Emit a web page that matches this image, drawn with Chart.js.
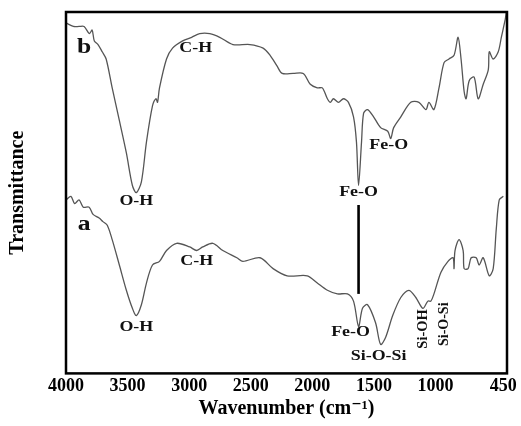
<!DOCTYPE html>
<html>
<head>
<meta charset="utf-8">
<script src="https://cdn.jsdelivr.net/npm/chart.js@4.4.1/dist/chart.umd.min.js"></script>
<style>
  html, body { margin: 0; padding: 0; background: #fff; }
</style>
</head>
<body>
<canvas id="ftir" width="521" height="426"></canvas>
<script>
// spectrum b (upper trace), wavenumber / transmittance (arb. units)
const bWave = [4000, 3940, 3894, 3853, 3810, 3788, 3770, 3740, 3706, 3674, 3625, 3567, 3510, 3461, 3429, 3388, 3347, 3298, 3270, 3257, 3241, 3184, 3135, 3053, 2980, 2915, 2833, 2752, 2645, 2507, 2400, 2343, 2286, 2245, 2156, 2074, 2017, 1960, 1919, 1878, 1854, 1829, 1788, 1748, 1707, 1666, 1642, 1625, 1601, 1584, 1552, 1503, 1446, 1388, 1364, 1340, 1282, 1201, 1135, 1078, 1054, 1013, 972, 931, 891, 850, 817, 793, 768, 752, 727, 687, 654, 613, 572, 564, 532, 491, 466, 434, 426];
const bTrans = [97, 96, 96, 96, 94, 95, 92, 91, 89, 87, 79, 70, 61, 52, 50, 53, 64, 74, 76, 75, 79, 87, 90, 92, 93, 94, 94, 93, 91, 91, 90, 88, 85, 83, 83, 83, 80, 79, 79, 76, 75, 76, 75, 76, 75, 71, 64, 52, 64, 72, 73, 71, 68, 67, 65, 68, 71, 75, 75, 73, 75, 73, 79, 86, 87, 88, 93, 87, 78, 76, 81, 82, 76, 80, 84, 89, 87, 89, 93, 98, 100];

// spectrum a (lower trace)
const aWave = [4000, 3960, 3930, 3894, 3860, 3812, 3780, 3731, 3700, 3665, 3625, 3567, 3510, 3461, 3429, 3388, 3347, 3298, 3241, 3184, 3102, 2996, 2939, 2890, 2808, 2727, 2613, 2564, 2425, 2319, 2205, 2041, 1960, 1878, 1797, 1715, 1666, 1625, 1593, 1552, 1487, 1446, 1405, 1348, 1282, 1217, 1160, 1103, 1062, 1038, 1013, 956, 899, 858, 850, 842, 809, 776, 768, 736, 711, 670, 646, 613, 564, 532, 507, 483, 450];
const aTrans = [48, 49, 47, 48, 46, 46, 44, 43, 42, 41, 37, 30, 23, 18, 16, 19, 25, 30, 31, 34, 36, 35, 34, 35, 36, 34, 32, 31, 32, 29, 27, 27, 25, 23, 22, 22, 20, 13, 18, 19, 14, 8, 10, 16, 21, 23, 21, 18, 20, 20, 22, 28, 31, 32, 29, 34, 37, 34, 29, 29, 32, 32, 30, 32, 27, 29, 40, 48, 49];

const xTicks = [4000, 3500, 3000, 2500, 2000, 1500, 1000, 450];

// band labels, placed in data coordinates
const bandLabels = [
  { text: 'b', w: 3853, t: 90, size: 20 },
  { text: 'C-H', w: 2947, t: 90 },
  { text: 'O-H', w: 3429, t: 47.5 },
  { text: 'Fe-O', w: 1625, t: 50.2 },
  { text: 'Fe-O', w: 1380, t: 63 },
  { text: 'a', w: 3853, t: 41, size: 20 },
  { text: 'C-H', w: 2939, t: 31 },
  { text: 'O-H', w: 3429, t: 12.8 },
  { text: 'Fe-O', w: 1690, t: 11.4 },
  { text: 'Si-O-Si', w: 1462, t: 4.7 },
  { text: 'Si-OH', w: 1103, t: 12.3, rot: true, size: 14.5 },
  { text: 'Si-O-Si', w: 931, t: 13.6, rot: true, size: 14 }
];

const serif = '"Liberation Serif", "DejaVu Serif", serif';

const decorations = {
  id: 'decorations',
  afterDatasetsDraw(chart) {
    const { ctx, chartArea: ca, scales } = chart;
    const x = scales.x, y = scales.y;
    ctx.save();
    // frame
    ctx.strokeStyle = '#000';
    ctx.lineWidth = 2.5;
    ctx.strokeRect(ca.left, ca.top, ca.right - ca.left, ca.bottom - ca.top);
    // connector line between the two Fe-O bands
    ctx.lineWidth = 2.6;
    ctx.beginPath();
    ctx.moveTo(x.getPixelForValue(1625), y.getPixelForValue(46.6));
    ctx.lineTo(x.getPixelForValue(1625), y.getPixelForValue(22));
    ctx.stroke();
    // labels (the source figure is a bit wider than tall, so stretch them)
    ctx.fillStyle = '#111';
    ctx.textAlign = 'center';
    ctx.textBaseline = 'middle';
    bandLabels.forEach(l => {
      ctx.font = 'bold ' + (l.size || 14) + 'px ' + serif;
      const px = x.getPixelForValue(l.w), py = y.getPixelForValue(l.t);
      ctx.save();
      ctx.translate(px, py);
      if (l.rot) {
        ctx.rotate(-Math.PI / 2);
      } else {
        ctx.scale(1.28, 1);
      }
      ctx.fillText(l.text, 0, 0);
      ctx.restore();
    });
    ctx.restore();
  }
};

new Chart(document.getElementById('ftir'), {
  type: 'line',
  data: {
    datasets: [
      {
        label: 'b',
        data: bWave.map((w, i) => ({ x: w, y: bTrans[i] })),
        borderColor: '#555',
        borderWidth: 1.3,
        pointRadius: 0,
        tension: 0.3
      },
      {
        label: 'a',
        data: aWave.map((w, i) => ({ x: w, y: aTrans[i] })),
        borderColor: '#555',
        borderWidth: 1.3,
        pointRadius: 0,
        tension: 0.3
      }
    ]
  },
  options: {
    responsive: false,
    animation: false,
    devicePixelRatio: 1,
    layout: { padding: { left: 6, top: 12, right: 14, bottom: 7 } },
    plugins: {
      legend: { display: false },
      tooltip: { enabled: false }
    },
    scales: {
      x: {
        type: 'linear',
        reverse: true,
        min: 420,
        max: 4000,
        afterBuildTicks: axis => { axis.ticks = xTicks.map(v => ({ value: v })); },
        grid: { display: false, drawTicks: false },
        border: { display: false },
        ticks: {
          color: '#000',
          padding: 2,
          maxRotation: 0,
          autoSkip: false,
          font: { family: serif, size: 18, weight: 'bold' },
          callback: v => String(v)
        },
        title: {
          display: true,
          text: 'Wavenumber (cm\u207B\u00B9)',
          color: '#000',
          padding: { top: 0, bottom: 0 },
          font: { family: serif, size: 20, weight: 'bold', lineHeight: 1.0 }
        }
      },
      y: {
        min: 0,
        max: 100,
        grid: { display: false, drawTicks: false },
        border: { display: false },
        ticks: { display: false },
        title: {
          display: true,
          text: 'Transmittance',
          color: '#000',
          padding: { top: 0, bottom: 36 },
          font: { family: serif, size: 20, weight: 'bold', lineHeight: 1.2 }
        }
      }
    }
  },
  plugins: [decorations]
});
</script>
</body>
</html>
